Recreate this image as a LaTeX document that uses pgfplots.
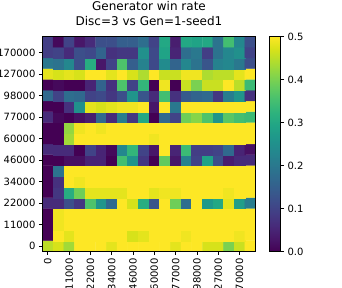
\documentclass[border=0pt]{standalone}
\usepackage{fontspec}
\setmainfont{DejaVu Sans}
\usepackage{pgfplots}
\pgfplotsset{compat=1.18}
\begin{document}
\begin{tikzpicture}
\begin{axis}[
 scale only axis, width=213pt, height=215pt,
 xmin=-0.5, xmax=19.5, ymin=-0.5, ymax=19.5,
 axis on top,
 colormap name=viridis,
 point meta min=0, point meta max=0.5,
 xtick={0,2,4,6,8,10,12,14,16,18},
 xticklabels={0,11000,22000,34000,46000,60000,77000,98000,127000,170000},
 ytick={0,2,4,6,8,10,12,14,16,18},
 yticklabels={0,11000,22000,34000,46000,60000,77000,98000,127000,170000},
 tick pos=left, tick align=outside, major tick length=3.5pt,
 tick style={black, line width=0.8pt},
 axis line style={line width=0.8pt},
 xticklabel style={rotate=90, anchor=east},
 tick label style={font=\fontsize{10}{12}\selectfont},
 /pgf/number format/assume math mode=true,
 title={Generator win rate\\Disc=3 vs Gen=1-seed1},
 title style={at={(0.5,1)}, anchor=south, yshift=5pt, inner sep=0pt, align=center, font=\fontsize{12}{15}\selectfont},
 colorbar,
 colorbar style={
   at={(parent axis.north east)}, anchor=north west, xshift=5.5pt,
   width=11pt, height=215pt, scale only axis,
   ymin=0, ymax=0.5,
   ytick={0,0.1,0.2,0.3,0.4,0.5},
   ytick pos=right, yticklabel pos=right,
   tick align=outside, major tick length=3.5pt,
   tick style={black, line width=0.8pt},
   axis line style={line width=0.8pt},
   yticklabel style={font=\fontsize{10}{12}\selectfont, /pgf/number format/assume math mode=true, /pgf/number format/fixed, /pgf/number format/precision=1, /pgf/number format/fixed zerofill},
 },
]
\addplot[matrix plot*, mesh/cols=20, point meta=explicit] table[row sep=\\, meta=c] {
x y c\\
0 0 0.45\\ 1 0 0.47\\ 2 0 0.43\\ 3 0 0.5\\ 4 0 0.5\\ 5 0 0.5\\ 6 0 0.48\\ 7 0 0.5\\ 8 0 0.5\\ 9 0 0.5\\ 10 0 0.5\\ 11 0 0.5\\ 12 0 0.48\\ 13 0 0.5\\ 14 0 0.5\\ 15 0 0.47\\ 16 0 0.47\\ 17 0 0.4\\ 18 0 0.46\\ 19 0 0.5\\
0 1 0\\ 1 1 0.5\\ 2 1 0.48\\ 3 1 0.5\\ 4 1 0.5\\ 5 1 0.5\\ 6 1 0.5\\ 7 1 0.5\\ 8 1 0.47\\ 9 1 0.48\\ 10 1 0.5\\ 11 1 0.5\\ 12 1 0.5\\ 13 1 0.49\\ 14 1 0.5\\ 15 1 0.5\\ 16 1 0.5\\ 17 1 0.5\\ 18 1 0.49\\ 19 1 0.5\\
0 2 0\\ 1 2 0.49\\ 2 2 0.5\\ 3 2 0.5\\ 4 2 0.5\\ 5 2 0.5\\ 6 2 0.5\\ 7 2 0.5\\ 8 2 0.5\\ 9 2 0.5\\ 10 2 0.5\\ 11 2 0.5\\ 12 2 0.5\\ 13 2 0.5\\ 14 2 0.5\\ 15 2 0.5\\ 16 2 0.5\\ 17 2 0.5\\ 18 2 0.5\\ 19 2 0.5\\
0 3 0\\ 1 3 0.49\\ 2 3 0.5\\ 3 3 0.5\\ 4 3 0.5\\ 5 3 0.5\\ 6 3 0.5\\ 7 3 0.5\\ 8 3 0.5\\ 9 3 0.5\\ 10 3 0.5\\ 11 3 0.5\\ 12 3 0.5\\ 13 3 0.5\\ 14 3 0.5\\ 15 3 0.5\\ 16 3 0.5\\ 17 3 0.5\\ 18 3 0.5\\ 19 3 0.5\\
0 4 0.06\\ 1 4 0.06\\ 2 4 0.12\\ 3 4 0.08\\ 4 4 0.36\\ 5 4 0.26\\ 6 4 0.17\\ 7 4 0.5\\ 8 4 0.47\\ 9 4 0.31\\ 10 4 0.13\\ 11 4 0.5\\ 12 4 0.39\\ 13 4 0.18\\ 14 4 0.5\\ 15 4 0.27\\ 16 4 0.3\\ 17 4 0.48\\ 18 4 0.28\\ 19 4 0.21\\
0 5 0\\ 1 5 0.08\\ 2 5 0.31\\ 3 5 0.39\\ 4 5 0.48\\ 5 5 0.48\\ 6 5 0.48\\ 7 5 0.48\\ 8 5 0.5\\ 9 5 0.5\\ 10 5 0.48\\ 11 5 0.49\\ 12 5 0.49\\ 13 5 0.5\\ 14 5 0.5\\ 15 5 0.5\\ 16 5 0.5\\ 17 5 0.49\\ 18 5 0.5\\ 19 5 0.5\\
0 6 0\\ 1 6 0.07\\ 2 6 0.5\\ 3 6 0.49\\ 4 6 0.5\\ 5 6 0.5\\ 6 6 0.5\\ 7 6 0.5\\ 8 6 0.5\\ 9 6 0.5\\ 10 6 0.5\\ 11 6 0.5\\ 12 6 0.5\\ 13 6 0.5\\ 14 6 0.5\\ 15 6 0.5\\ 16 6 0.5\\ 17 6 0.5\\ 18 6 0.5\\ 19 6 0.5\\
0 7 0\\ 1 7 0.19\\ 2 7 0.5\\ 3 7 0.5\\ 4 7 0.5\\ 5 7 0.5\\ 6 7 0.5\\ 7 7 0.5\\ 8 7 0.5\\ 9 7 0.5\\ 10 7 0.5\\ 11 7 0.5\\ 12 7 0.5\\ 13 7 0.5\\ 14 7 0.5\\ 15 7 0.5\\ 16 7 0.5\\ 17 7 0.5\\ 18 7 0.5\\ 19 7 0.5\\
0 8 0\\ 1 8 0\\ 2 8 0.02\\ 3 8 0.02\\ 4 8 0.05\\ 5 8 0.05\\ 6 8 0\\ 7 8 0.35\\ 8 8 0.26\\ 9 8 0.08\\ 10 8 0\\ 11 8 0.38\\ 12 8 0.03\\ 13 8 0.22\\ 14 8 0.1\\ 15 8 0.29\\ 16 8 0.12\\ 17 8 0.04\\ 18 8 0.06\\ 19 8 0.06\\
0 9 0.06\\ 1 9 0.06\\ 2 9 0.06\\ 3 9 0\\ 4 9 0.1\\ 5 9 0.05\\ 6 9 0.01\\ 7 9 0.23\\ 8 9 0.33\\ 9 9 0.1\\ 10 9 0.03\\ 11 9 0.5\\ 12 9 0.05\\ 13 9 0.34\\ 14 9 0.09\\ 15 9 0.09\\ 16 9 0.1\\ 17 9 0.17\\ 18 9 0.05\\ 19 9 0.02\\
0 10 0\\ 1 10 0\\ 2 10 0.43\\ 3 10 0.5\\ 4 10 0.5\\ 5 10 0.5\\ 6 10 0.5\\ 7 10 0.5\\ 8 10 0.5\\ 9 10 0.5\\ 10 10 0.49\\ 11 10 0.5\\ 12 10 0.5\\ 13 10 0.5\\ 14 10 0.5\\ 15 10 0.5\\ 16 10 0.5\\ 17 10 0.5\\ 18 10 0.5\\ 19 10 0.5\\
0 11 0\\ 1 11 0\\ 2 11 0.42\\ 3 11 0.49\\ 4 11 0.5\\ 5 11 0.49\\ 6 11 0.5\\ 7 11 0.5\\ 8 11 0.5\\ 9 11 0.5\\ 10 11 0.5\\ 11 11 0.5\\ 12 11 0.5\\ 13 11 0.5\\ 14 11 0.5\\ 15 11 0.5\\ 16 11 0.5\\ 17 11 0.5\\ 18 11 0.5\\ 19 11 0.5\\
0 12 0.06\\ 1 12 0.01\\ 2 12 0\\ 3 12 0.02\\ 4 12 0.04\\ 5 12 0.17\\ 6 12 0.06\\ 7 12 0.21\\ 8 12 0.08\\ 9 12 0.3\\ 10 12 0\\ 11 12 0.17\\ 12 12 0.1\\ 13 12 0.39\\ 14 12 0.41\\ 15 12 0.36\\ 16 12 0.26\\ 17 12 0.37\\ 18 12 0.35\\ 19 12 0.34\\
0 13 0\\ 1 13 0\\ 2 13 0.07\\ 3 13 0.25\\ 4 13 0.48\\ 5 13 0.47\\ 6 13 0.48\\ 7 13 0.49\\ 8 13 0.49\\ 9 13 0.5\\ 10 13 0.03\\ 11 13 0.5\\ 12 13 0.2\\ 13 13 0.5\\ 14 13 0.5\\ 15 13 0.5\\ 16 13 0.5\\ 17 13 0.5\\ 18 13 0.5\\ 19 13 0.5\\
0 14 0.17\\ 1 14 0.1\\ 2 14 0.18\\ 3 14 0.17\\ 4 14 0.1\\ 5 14 0.11\\ 6 14 0.08\\ 7 14 0.12\\ 8 14 0.26\\ 9 14 0.13\\ 10 14 0.06\\ 11 14 0.35\\ 12 14 0.07\\ 13 14 0.14\\ 14 14 0.16\\ 15 14 0.17\\ 16 14 0.08\\ 17 14 0.21\\ 18 14 0.26\\ 19 14 0.07\\
0 15 0\\ 1 15 0.01\\ 2 15 0\\ 3 15 0\\ 4 15 0.05\\ 5 15 0.16\\ 6 15 0.07\\ 7 15 0.36\\ 8 15 0.1\\ 9 15 0.33\\ 10 15 0\\ 11 15 0.49\\ 12 15 0\\ 13 15 0.46\\ 14 15 0.4\\ 15 15 0.46\\ 16 15 0.46\\ 17 15 0.5\\ 18 15 0.45\\ 19 15 0.34\\
0 16 0.48\\ 1 16 0.47\\ 2 16 0.48\\ 3 16 0.47\\ 4 16 0.5\\ 5 16 0.5\\ 6 16 0.48\\ 7 16 0.5\\ 8 16 0.47\\ 9 16 0.44\\ 10 16 0.5\\ 11 16 0.46\\ 12 16 0.46\\ 13 16 0.49\\ 14 16 0.49\\ 15 16 0.44\\ 16 16 0.45\\ 17 16 0.45\\ 18 16 0.48\\ 19 16 0.5\\
0 17 0.2\\ 1 17 0.19\\ 2 17 0.23\\ 3 17 0.12\\ 4 17 0.31\\ 5 17 0.03\\ 6 17 0.1\\ 7 17 0.36\\ 8 17 0.15\\ 9 17 0.22\\ 10 17 0.11\\ 11 17 0.24\\ 12 17 0.16\\ 13 17 0.23\\ 14 17 0.19\\ 15 17 0.13\\ 16 17 0.22\\ 17 17 0.23\\ 18 17 0.2\\ 19 17 0.12\\
0 18 0.09\\ 1 18 0.1\\ 2 18 0.06\\ 3 18 0.12\\ 4 18 0.11\\ 5 18 0.16\\ 6 18 0.07\\ 7 18 0.08\\ 8 18 0.08\\ 9 18 0.25\\ 10 18 0.11\\ 11 18 0.29\\ 12 18 0.05\\ 13 18 0.18\\ 14 18 0.2\\ 15 18 0.09\\ 16 18 0.19\\ 17 18 0.23\\ 18 18 0.25\\ 19 18 0.1\\
0 19 0.09\\ 1 19 0.01\\ 2 19 0.1\\ 3 19 0.03\\ 4 19 0.06\\ 5 19 0.12\\ 6 19 0.12\\ 7 19 0.15\\ 8 19 0.15\\ 9 19 0.18\\ 10 19 0.1\\ 11 19 0.3\\ 12 19 0.04\\ 13 19 0.3\\ 14 19 0.29\\ 15 19 0.3\\ 16 19 0.19\\ 17 19 0.35\\ 18 19 0.23\\ 19 19 0.12\\
};
\end{axis}
\pgfresetboundingbox
\path[use as bounding box] (-42.5pt,-36.5pt) rectangle (299.5pt,251.5pt);
\end{tikzpicture}
\end{document}
